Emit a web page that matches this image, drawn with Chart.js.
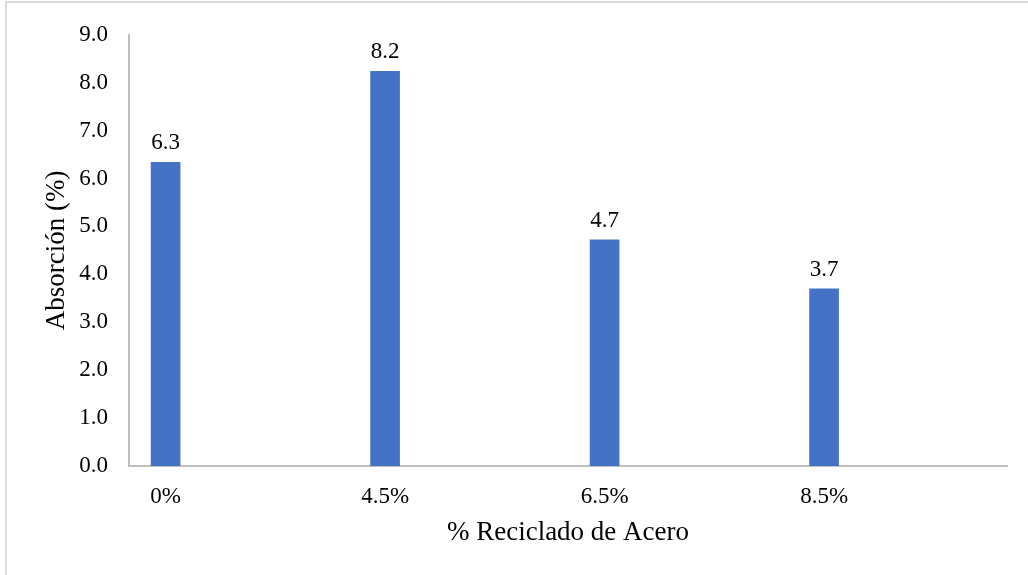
<!DOCTYPE html>
<html>
<head>
<meta charset="utf-8">
<title>Absorción</title>
<script src="https://cdn.jsdelivr.net/npm/chart.js@4.4.1/dist/chart.umd.min.js"></script>
<style>
  html, body { margin: 0; padding: 0; background: #fff; overflow: hidden; }
  #frame {
    position: absolute; left: 5px; top: 1px;
    width: 1100px; height: 700px;
    border: 2px solid #d9d9d9;
  }
  #chart { position: absolute; left: 0; top: 0; }
</style>
</head>
<body>
<div id="frame"></div>
<canvas id="chart" width="1028" height="575"></canvas>
<script>
// Chart data
const categories = ['0%', '4.5%', '6.5%', '8.5%'];
const absorption = [6.34, 8.24, 4.72, 3.70];
const yTicks = [0, 1, 2, 3, 4, 5, 6, 7, 8, 9];

const BAR_COLOR = '#4472c4';
const AXIS_COLOR = '#bfbfbf';
const FONT = '"Liberation Serif", "Times New Roman", serif';

// Value labels drawn above each bar
const barLabels = {
  id: 'barLabels',
  afterDatasetsDraw(chart) {
    const { ctx } = chart;
    const meta = chart.getDatasetMeta(0);
    ctx.save();
    ctx.font = '23px ' + FONT;
    ctx.fillStyle = '#000';
    ctx.textAlign = 'center';
    ctx.textBaseline = 'alphabetic';
    meta.data.forEach((bar, i) => {
      ctx.fillText(absorption[i].toFixed(1), bar.x, bar.y - 13);
    });
    ctx.restore();
  },
};

new Chart(document.getElementById('chart'), {
  type: 'bar',
  data: {
    datasets: [{
      label: 'Absorción (%)',
      data: categories.map((c, i) => ({ x: i, y: absorption[i] })),
      backgroundColor: BAR_COLOR,
      borderWidth: 0,
      barThickness: 29,
    }],
  },
  options: {
    responsive: false,
    animation: false,
    devicePixelRatio: 1,
    layout: { padding: { left: 0, top: 32, right: 21, bottom: 0 } },
    plugins: {
      legend: { display: false },
      tooltip: { enabled: false },
    },
    scales: {
      x: {
        type: 'linear',
        offset: false,
        min: -1 / 6,
        max: 4 - 1 / 6,
        grid: { display: false, drawTicks: false, tickLength: 0 },
        border: { display: true, color: AXIS_COLOR, width: 2 },
        afterBuildTicks(scale) {
          scale.ticks = categories.map((c, i) => ({ value: i }));
        },
        afterFit(scale) { scale.height = 109; },
        ticks: {
          color: '#000',
          font: { family: FONT, size: 23 },
          padding: 17,
          maxRotation: 0,
          autoSkip: false,
          callback: (v) => categories[v] ?? '',
        },
        title: {
          display: true,
          text: '% Reciclado de Acero',
          color: '#000',
          font: { family: FONT, size: 27 },
          padding: { top: 0, bottom: 26 },
        },
      },
      y: {
        min: 0,
        max: 9,
        grid: { display: false, drawTicks: false, tickLength: 0 },
        border: { display: true, color: AXIS_COLOR, width: 2 },
        afterBuildTicks(scale) {
          scale.ticks = yTicks.map((v) => ({ value: v }));
        },
        afterFit(scale) { scale.width = 129; },
        ticks: {
          color: '#000',
          font: { family: FONT, size: 23 },
          padding: 21,
          callback: (v) => v.toFixed(1),
        },
        title: {
          display: true,
          text: 'Absorción (%)',
          color: '#000',
          font: { family: FONT, size: 27 },
          padding: { top: 41, bottom: 0 },
        },
      },
    },
  },
  plugins: [barLabels],
});
</script>
</body>
</html>
